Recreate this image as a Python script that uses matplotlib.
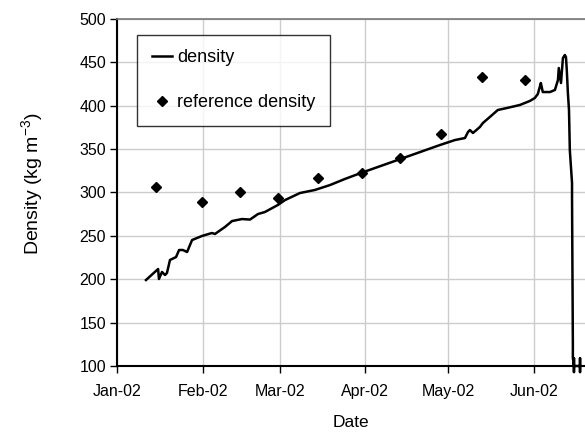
import numpy as np
import matplotlib
matplotlib.use("Agg")
import matplotlib.pyplot as plt
import matplotlib.dates as mdates

plt.rcParams['font.family'] = ['Liberation Sans', 'DejaVu Sans']
plt.rcParams['mathtext.fontset'] = 'custom'
plt.rcParams['mathtext.rm'] = 'Liberation Sans'

start = np.datetime64('2002-01-01T00:00')

# measured density: days since 1 Jan 2002, kg m-3
dens_day = [10.5, 14.9, 15.2, 16.3, 17.4, 18.1, 19.2, 21.4, 22.5, 23.9, 25.4,
            27.2, 30.8, 34.4, 35.5, 39.1, 41.7, 45.3, 48.2, 51.1, 53.6, 58.3,
            60.9, 66.3, 71.7, 77.2, 82.6, 88.4, 117.0, 122.5, 126.1, 127.2,
            127.9, 129.0, 131.5, 132.6, 135.1, 138.0, 141.3, 146.0, 149.6,
            151.4, 152.5, 153.3, 153.6, 154.3, 156.9, 158.7, 159.8, 160.1,
            160.9, 161.6, 162.3, 162.7, 163.0, 163.4, 163.8, 164.1, 164.9,
            164.9, 165.2, 165.2, 165.6, 165.6, 165.6, 165.6, 167.8, 167.8,
            167.8, 167.8]
dens_val = [199.1, 211.8, 200.3, 208.4, 204.9, 207.2, 222.2, 225.6, 233.7,
            233.7, 231.4, 245.2, 249.9, 253.3, 252.2, 260.2, 267.1, 269.4,
            268.8, 275.2, 277.5, 285.6, 291.3, 299.4, 302.9, 308.6, 315.6,
            322.5, 354.7, 360.5, 362.8, 369.7, 372.0, 368.6, 375.5, 380.1,
            387.0, 395.1, 397.4, 400.9, 405.5, 408.9, 413.5, 422.8, 426.2,
            415.8, 415.8, 418.2, 429.7, 443.5, 426.2, 455.0, 458.5, 456.2,
            441.2, 414.7, 395.1, 349.0, 310.9, 293.7, 126.5, 109.2, 100.0,
            93.0, 109.0, 100.0, 100.0, 109.0, 93.0, 100.0]

# reference density samples
ref_day = [14.1, 30.8, 44.6, 58.3, 72.8, 88.8, 102.5, 117.4, 132.2, 147.8]
ref_val = [306.3, 289.0, 300.6, 293.7, 316.7, 322.5, 339.8, 367.4, 433.1, 429.7]

yticks = [100, 150, 200, 250, 300, 350, 400, 450, 500]


def to_dates(days):
    secs = (np.asarray(days) * 86400).astype('int64').astype('timedelta64[s]')
    return start + secs


fig = plt.figure(figsize=(5.85, 4.32), dpi=100)
ax = fig.add_axes([0.2, 0.1528, 0.8, 0.8032])

ax.plot(to_dates(dens_day), dens_val, color='black', lw=1.8,
        label='density', clip_on=False, zorder=3)
ax.plot(to_dates(ref_day), ref_val, linestyle='none', marker='D',
        markersize=5, color='black', label='reference density', zorder=4)

ax.set_ylim(100, 500)
ax.set_yticks(yticks)
ax.set_xlim(to_dates([0])[0], to_dates([169.6])[0])
ax.xaxis.set_major_locator(mdates.MonthLocator())
ax.xaxis.set_major_formatter(mdates.DateFormatter('%b-%y'))

ax.grid(True, color='#cccccc', lw=1.0)
ax.set_axisbelow(True)
for s in ('left', 'bottom'):
    ax.spines[s].set_color('black')
    ax.spines[s].set_linewidth(1.5)
ax.spines['top'].set_color('#777777')
ax.spines['top'].set_linewidth(1.2)
ax.spines['right'].set_visible(False)

ax.tick_params(direction='out', length=5, width=1, colors='black',
               labelsize=11.5)
ax.tick_params(axis='y', pad=3)
ax.tick_params(axis='x', pad=8)

ax.set_xlabel('Date', fontsize=12.5)
ax.set_ylabel(r'Density (kg m$^{\mathregular{-3}}$)', fontsize=14)
ax.xaxis.set_label_coords(0.5, -0.141)
ax.yaxis.set_label_coords(-0.152, 0.527)

leg = ax.legend(loc='upper left', bbox_to_anchor=(0.043, 0.954),
                fontsize=13, frameon=True, fancybox=False,
                edgecolor='black', borderpad=0.8, labelspacing=1.55,
                handlelength=1.15, handletextpad=0.25, borderaxespad=0)
leg.get_frame().set_linewidth(1.0)

fig.savefig('out.png', dpi=100)
